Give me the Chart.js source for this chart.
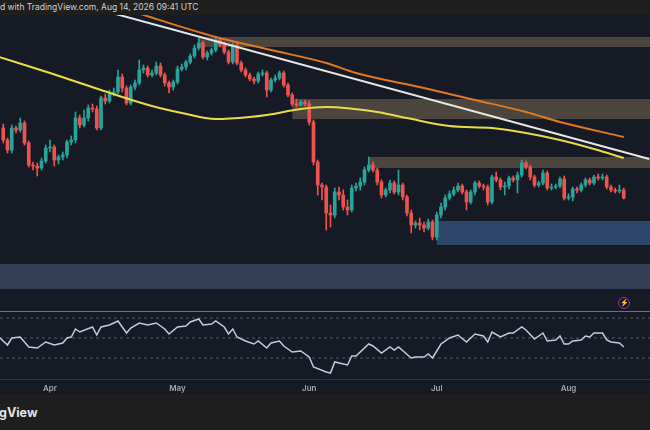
<!DOCTYPE html>
<html>
<head>
<meta charset="utf-8">
<script src="https://cdn.jsdelivr.net/npm/chart.js@4.4.1/dist/chart.umd.min.js"></script>
<style>
    html, body { margin: 0; padding: 0; }
    body {
        width: 650px; height: 430px; position: relative; overflow: hidden;
        background: #161a25; font-family: Inter, "Noto Sans", sans-serif;
    }
    #topBar {
        position: absolute; left: 0; top: 0; width: 650px; height: 15px;
        background: #1f1f1f; color: #cfcfcf; font-size: 8.5px; line-height: 15px;
        white-space: nowrap; z-index: 3;
    }
    #mainWrap { position: absolute; left: 0; top: 15px; width: 650px; height: 296px; }
    #rsiWrap { position: absolute; left: 0; top: 311px; width: 650px; height: 83px; }
    #sep { position: absolute; left: 0; top: 311px; width: 650px; height: 1px; background: #6c6f79; z-index: 2; }
    #bottomBar {
        position: absolute; left: 0; top: 394px; width: 650px; height: 36px;
        background: #1e1e1e; color: #e3e3e3; font-weight: 700; font-size: 12.5px;
    }
    #bottomBar span { position: absolute; left: -1px; top: 11px; }
    #flash {
        position: absolute; left: 618px; top: 297px; width: 10px; height: 10px;
        border: 1px solid #9c2fb0; border-radius: 50%; color: #c04cd6;
        font-size: 7px; line-height: 10px; text-align: center; z-index: 2;
    }
</style>
</head>
<body>
<div id="topBar">d with TradingView.com, Aug 14, 2026 09:41 UTC</div>
<div id="mainWrap"><canvas id="mainChart"></canvas></div>
<div id="sep"></div>
<div id="flash">⚡</div>
<div id="rsiWrap"><canvas id="rsiChart"></canvas></div>
<div id="bottomBar"><span>gView</span></div>

<script>
// Daily candles, day 0 = Apr 1
const firstDay = -11;
const opens = [
    272, 260, 250, 272, 270, 277, 257, 235, 234, 232, 239,
    252, 253, 240, 243, 245, 258, 260, 282, 275, 282,
    292, 291, 272, 302, 299, 306, 308, 323, 312, 297,
    313, 317, 330, 332, 325, 327, 334, 325, 317, 313,
    318, 331, 333, 338, 344, 352, 357, 343, 347, 350,
    360, 355, 348, 338, 355, 337, 330, 325, 321, 319,
    326, 327, 310, 320, 322, 327, 315, 305, 296, 295,
    298, 296, 278, 238, 215, 213, 187, 185, 208, 205,
    193, 190, 212, 214, 218, 230, 235, 230, 218, 205,
    210, 217, 208, 215, 203, 187, 175, 177, 175, 172,
    178, 163, 185, 193, 202, 206, 210, 214, 208, 198,
    208, 217, 214, 213, 198, 223, 220, 213, 214, 222,
    220, 225, 237, 233, 223, 215, 217, 227, 212, 213,
    214, 221, 202, 203, 211, 210, 215, 220, 217, 223,
    222, 223, 213, 210, 209, 210
];
const closes = [
    260, 250, 272, 270, 277, 257, 235, 234, 232, 239, 252,
    253, 240, 243, 245, 258, 260, 282, 275, 282, 292,
    291, 272, 302, 299, 306, 308, 323, 312, 297, 313,
    317, 330, 332, 325, 327, 334, 325, 317, 313, 318,
    331, 333, 338, 344, 352, 357, 343, 347, 350, 360,
    355, 348, 338, 355, 337, 330, 325, 321, 319, 326,
    327, 310, 320, 322, 327, 315, 305, 296, 295, 298,
    296, 278, 238, 215, 213, 187, 185, 208, 205, 193,
    190, 212, 214, 218, 230, 235, 230, 218, 205, 210,
    217, 208, 215, 203, 187, 175, 177, 175, 172, 178,
    163, 185, 193, 202, 206, 210, 214, 208, 198, 208,
    217, 214, 213, 198, 223, 220, 213, 214, 222, 220,
    225, 237, 233, 223, 215, 217, 227, 212, 213, 214,
    221, 202, 203, 211, 210, 215, 220, 217, 223, 222,
    223, 213, 210, 209, 210, 202
];
const highs = [
    276, 262, 275, 274, 282, 279, 259, 238, 237, 242, 255,
    260, 255, 245, 248, 260, 264, 288, 285, 290, 295,
    296, 294, 304, 306, 310, 312, 330, 326, 314, 315,
    320, 340, 335, 334, 330, 338, 337, 327, 319, 320,
    334, 336, 340, 346, 355, 362, 359, 349, 352, 363,
    362, 358, 350, 357, 357, 339, 332, 327, 323, 328,
    330, 329, 322, 325, 329, 329, 317, 307, 301, 300,
    300, 299, 280, 240, 217, 215, 195, 212, 213, 210,
    200, 215, 217, 222, 233, 243, 238, 232, 220, 212,
    220, 219, 230, 217, 205, 190, 179, 182, 178, 181,
    180, 188, 197, 205, 209, 213, 217, 216, 210, 210,
    219, 219, 216, 215, 225, 228, 222, 218, 224, 224,
    228, 240, 239, 235, 225, 219, 230, 229, 216, 216,
    223, 224, 206, 213, 213, 217, 222, 222, 225, 226,
    226, 225, 215, 212, 215, 212
];
const lows = [
    257, 247, 247, 267, 268, 255, 233, 230, 224, 230, 237,
    248, 234, 236, 240, 242, 255, 257, 272, 273, 279,
    288, 270, 270, 296, 297, 304, 306, 308, 295, 295,
    310, 315, 327, 323, 323, 325, 323, 314, 307, 310,
    316, 329, 330, 336, 342, 350, 341, 340, 345, 348,
    353, 346, 336, 336, 335, 328, 323, 319, 316, 317,
    324, 303, 308, 318, 320, 313, 303, 294, 293, 294,
    294, 275, 235, 205, 200, 170, 173, 182, 200, 190,
    185, 188, 209, 210, 215, 228, 228, 215, 202, 203,
    207, 206, 205, 200, 184, 167, 172, 170, 168, 170,
    160, 160, 182, 190, 200, 204, 208, 206, 190, 196,
    205, 212, 210, 195, 196, 218, 210, 205, 211, 218,
    207, 223, 231, 220, 213, 213, 215, 210, 210, 211,
    212, 200, 200, 199, 207, 208, 213, 215, 215, 220,
    220, 211, 208, 207, 207, 201
];

// 100 and 200 day moving averages
const ma100Day = [-12, 0, 12, 24, 31, 39, 47, 51, 59, 65, 77, 84, 94, 104, 112, 120, 128, 135];
const ma100 = [343, 327, 310, 294, 287, 281, 283, 285, 291, 293, 288, 282, 274, 272, 267, 260, 251, 242];
const ma200Day = [19, 39, 52, 65, 72, 88, 100, 112, 120, 135];
const ma200 = [389, 363, 350, 337, 327, 312, 300, 288, 278, 263];

// Descending trendline
const trendDay = [12, 141];
const trendVal = [390, 241];

// Supply / demand zones
const zoneFrom = [35, 57, 75, 91, -12];
const zoneTo = [142, 142, 142, 142, 142];
const zoneHigh = [363, 301, 243, 179, 136];
const zoneLow = [353, 281, 232, 155, 111];
const zoneKind = ['supply', 'supply', 'supply', 'demand', 'support'];

// RSI(14)
const rsiDay = [-12, -10, -9, -7, -5, -3, -1, 1, 3, 4, 5, 6, 7, 10, 11, 12, 14, 16, 18, 19,
    21, 23, 25, 27, 28, 30, 32, 33, 35, 36, 38, 39, 41, 42, 43, 44, 46, 48, 49, 51,
    52, 54, 55, 57, 59, 61, 62, 65, 66, 67, 70, 71, 72, 75, 76, 78, 80, 81, 82, 85,
    86, 88, 89, 90, 92, 94, 96, 98, 100, 102, 103, 104, 106, 108, 109, 111, 112, 114, 116, 117,
    119, 120, 121, 122, 123, 125, 126, 127, 128, 130, 131, 132, 134, 135];
const rsiVal = [51, 43, 50, 51, 41, 40, 46, 43, 45, 50, 51, 59, 56, 61, 53, 61, 63, 67, 55, 60,
    65, 63, 65, 59, 54, 61, 62, 66, 69, 63, 64, 67, 61, 54, 59, 51, 47, 44, 47, 40,
    45, 47, 42, 36, 37, 31, 21, 16, 15, 26, 23, 32, 32, 44, 42, 35, 41, 38, 41, 30,
    31, 31, 34, 30, 44, 50, 53, 46, 54, 52, 46, 56, 51, 55, 55, 61, 58, 49, 55, 47,
    48, 52, 44, 44, 47, 48, 52, 51, 55, 55, 48, 46, 45, 41];
const rsiLevels = [70, 50, 30];

// Time axis
const monthDay = [0, 30, 61, 91, 122];
const monthLabel = ['Apr', 'May', 'Jun', 'Jul', 'Aug'];

// visible window (days) and price window
const viewFrom = -11.765;
const viewTo = 141.18;
const priceMin = 89;
const priceMax = 385;

const UP = '#26a69a';
const DOWN = '#ef5350';
const zoneColor = { supply: '#4b453e', demand: '#2d4669', support: '#323e56' };

// Build main chart
const days = opens.map((_, i) => firstDay + i);
const candleColors = days.map((_, i) => closes[i] >= opens[i] ? UP : DOWN);

const zoneSets = zoneFrom.map((from, i) => ({
    type: 'line',
    data: [{ x: from, y: zoneHigh[i] }, { x: zoneTo[i], y: zoneHigh[i] }],
    borderWidth: 0,
    pointRadius: 0,
    backgroundColor: zoneColor[zoneKind[i]],
    fill: { value: zoneLow[i] },
    order: 20
}));

new Chart(document.getElementById('mainChart').getContext('2d'), {
    type: 'bar',
    data: {
        datasets: [
            {
                type: 'line',
                data: trendDay.map((d, i) => ({ x: d, y: trendVal[i] })),
                borderColor: '#e6e6e6',
                borderWidth: 2,
                pointRadius: 0,
                order: 1
            },
            {
                type: 'line',
                data: ma200Day.map((d, i) => ({ x: d, y: ma200[i] })),
                borderColor: '#dd7a22',
                borderWidth: 2,
                pointRadius: 0,
                cubicInterpolationMode: 'monotone',
                order: 2
            },
            {
                type: 'line',
                data: ma100Day.map((d, i) => ({ x: d, y: ma100[i] })),
                borderColor: '#e8dc4c',
                borderWidth: 2,
                pointRadius: 0,
                cubicInterpolationMode: 'monotone',
                order: 3
            },
            {
                data: days.map((d, i) => ({ x: d, y: [opens[i], closes[i]] })),
                backgroundColor: candleColors,
                barThickness: 3,
                minBarLength: 1,
                grouped: false,
                order: 5
            },
            {
                data: days.map((d, i) => ({ x: d, y: [lows[i], highs[i]] })),
                backgroundColor: candleColors,
                barThickness: 1,
                grouped: false,
                order: 6
            },
            ...zoneSets
        ]
    },
    options: {
        responsive: true,
        maintainAspectRatio: false,
        animation: false,
        layout: { padding: 0 },
        plugins: { legend: { display: false }, tooltip: { enabled: false } },
        scales: {
            x: { type: 'linear', min: viewFrom, max: viewTo, offset: false, display: false },
            y: { min: priceMin, max: priceMax, beginAtZero: false, display: false }
        }
    }
});

// RSI pane with the time axis
const levelSets = rsiLevels.map(v => ({
    data: [{ x: viewFrom, y: v }, { x: viewTo, y: v }],
    borderColor: '#555964',
    borderWidth: 1,
    borderDash: [3, 3],
    pointRadius: 0
}));

new Chart(document.getElementById('rsiChart').getContext('2d'), {
    type: 'line',
    data: {
        datasets: [
            {
                data: rsiDay.map((d, i) => ({ x: d, y: rsiVal[i] })),
                borderColor: '#c2cce0',
                borderWidth: 1.5,
                pointRadius: 0
            },
            ...levelSets
        ]
    },
    options: {
        responsive: true,
        maintainAspectRatio: false,
        animation: false,
        layout: { padding: 0 },
        plugins: { legend: { display: false }, tooltip: { enabled: false } },
        scales: {
            x: {
                type: 'linear',
                min: viewFrom,
                max: viewTo,
                offset: false,
                grid: { display: false, drawTicks: false },
                border: { display: true, color: '#2f333e' },
                ticks: {
                    autoSkip: false,
                    maxRotation: 0,
                    padding: 5,
                    color: '#a3a6af',
                    font: { size: 8, weight: '600', family: 'Inter' },
                    callback: v => {
                        const i = monthDay.indexOf(v);
                        return i >= 0 ? monthLabel[i] : '';
                    }
                },
                afterBuildTicks: scale => {
                    scale.ticks = monthDay.map(v => ({ value: v }));
                },
                afterFit: scale => {
                    scale.height = 15;
                }
            },
            y: { min: 9, max: 77, display: false }
        }
    }
});
</script>
</body>
</html>
